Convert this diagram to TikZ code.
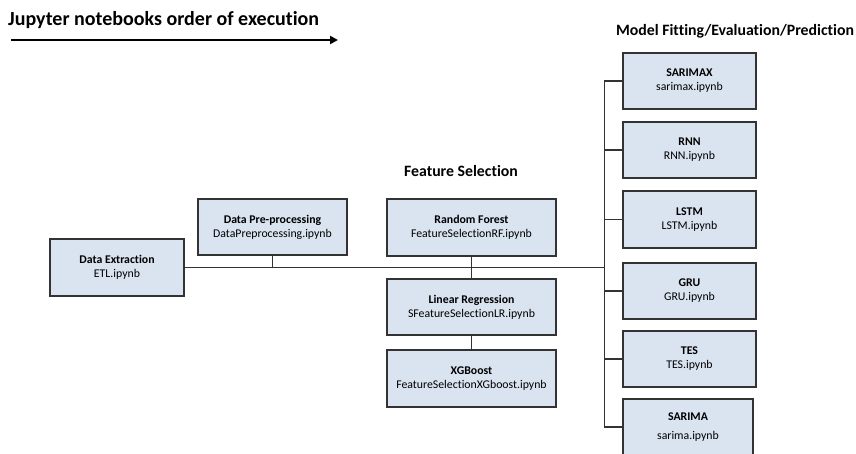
\documentclass[tikz,border=0pt]{standalone}
\usepackage{fontspec}
\setmainfont{Carlito}[Ligatures=NoCommon]
\usetikzlibrary{arrows.meta}
\definecolor{boxfill}{HTML}{DAE3F0}
\definecolor{boxline}{HTML}{333333}
\tikzset{
	nbbox/.style={draw=boxline, line width=1.1pt, fill=boxfill, rectangle, align=center, inner sep=0pt, font=\fontsize{11.8}{14}\selectfont},
	link/.style={draw=boxline, line width=1.1pt},
	heading/.style={font=\fontsize{15.8}{18}\selectfont\bfseries, inner sep=0pt}
}
\begin{document}
\begin{tikzpicture}[x=1pt, y=-1pt]
			%%%%% START %%%%%
			\useasboundingbox (0, 0) rectangle (856, 453);
			\clip (0, 0) rectangle (856, 453);
			
			\node[heading, font=\fontsize{20}{24}\selectfont\bfseries, anchor=base west] (title) at (8, 25) {Jupyter notebooks order of execution};
			\coordinate (arrowstart) at (11, 40);
			\coordinate (arrowend) at (338, 40);
			\draw[line width=2.6pt, -{Triangle[length=8pt, width=8pt]}] (arrowstart) -- (arrowend);
			
			\node[heading] (fshead) at (461, 171) {Feature Selection};
			\node[heading] (mfhead) at (735, 31) {Model Fitting/Evaluation/Prediction};
			
			\node[nbbox, minimum width=134, minimum height=57] (etl) at (117, 267.5) {\textbf{Data Extraction}\\ETL.ipynb};
			\node[nbbox, minimum width=149, minimum height=56] (prep) at (272.5, 227) {\textbf{Data Pre-processing}\\DataPreprocessing.ipynb};
			
			\node[nbbox, minimum width=169, minimum height=57] (rf) at (471.5, 227.5) {\textbf{Random Forest}\\FeatureSelectionRF.ipynb};
			\node[nbbox, minimum width=169, minimum height=56] (lr) at (471.5, 307) {\textbf{Linear Regression}\\SFeatureSelectionLR.ipynb};
			\node[nbbox, minimum width=169, minimum height=57] (xgb) at (471.5, 378.5) {\textbf{XGBoost}\\FeatureSelectionXGboost.ipynb};
			
			\node[nbbox, minimum width=133, minimum height=56] (sarimax) at (689.5, 81) {\textbf{SARIMAX}\\sarimax.ipynb};
			\node[nbbox, minimum width=133, minimum height=56] (rnn) at (689.5, 150) {\textbf{RNN}\\RNN.ipynb};
			\node[nbbox, minimum width=133, minimum height=57] (lstm) at (689.5, 219.5) {\textbf{LSTM}\\LSTM.ipynb};
			\node[nbbox, minimum width=133, minimum height=56] (gru) at (689.5, 291) {\textbf{GRU}\\GRU.ipynb};
			\node[nbbox, minimum width=133, minimum height=56] (tes) at (689.5, 359) {\textbf{TES}\\TES.ipynb};
			\node[nbbox, minimum width=130, minimum height=56] (sarima) at (688, 427) {\textbf{SARIMA}\\[5pt]sarima.ipynb};
			
			% bus on the right
			\draw[link] (sarimax.west) -- ++(-18, 0) coordinate (bustop);
			\draw[link] (bustop) |- (sarima.west);
			\foreach \nb in {rnn, lstm, gru, tes}
				\draw[link] (\nb.west) -- (\nb.west -| bustop);
			
			% main line
			\draw[link] (etl.east) -- (etl.east -| bustop);
			\draw[link] (prep.south) -- (prep.south |- etl.east);
			\draw[link] (rf.south) -- (lr.north);
			\draw[link] (lr.south) -- (xgb.north);
			
			%%%%% END %%%%%
\end{tikzpicture}
\end{document}
